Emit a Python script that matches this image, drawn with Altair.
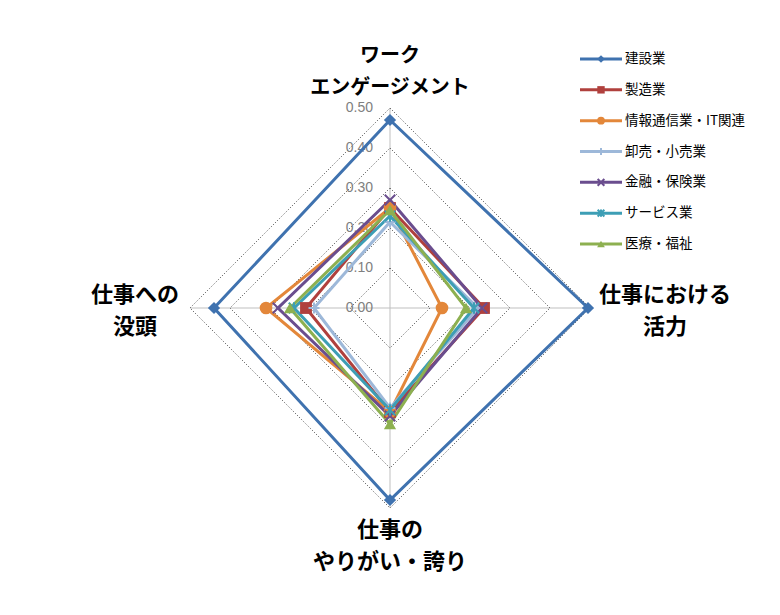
import altair as alt
import pandas as pd

# ---- data ----
axes_labels = ["ワーク\nエンゲージメント", "仕事における\n活力", "仕事の\nやりがい・誇り", "仕事への\n没頭"]
industries = ["建設業", "製造業", "情報通信業・IT関連", "卸売・小売業", "金融・保険業", "サービス業", "医療・福祉"]
# order of values: ワーク(top), 活力(right), やりがい(bottom), 没頭(left)
v_kensetsu = [0.47, 0.495, 0.48, 0.44]
v_seizo = [0.25, 0.235, 0.26, 0.21]
v_joho = [0.25, 0.13, 0.26, 0.31]
v_oroshi = [0.215, 0.22, 0.25, 0.19]
v_kinyu = [0.27, 0.23, 0.27, 0.28]
v_service = [0.23, 0.21, 0.255, 0.24]
v_iryo = [0.245, 0.19, 0.29, 0.25]
grid_levels = [0.1, 0.2, 0.3, 0.4, 0.5]
tick_values = [0.0, 0.1, 0.2, 0.3, 0.4, 0.5]
tick_labels = ["0.00", "0.10", "0.20", "0.30", "0.40", "0.50"]

colors = ["#3F72AF", "#B0403D", "#E3873A", "#9DB8D9", "#6A4D8E", "#3D9EB5", "#8DB050"]
series_values = [v_kensetsu, v_seizo, v_joho, v_oroshi, v_kinyu, v_service, v_iryo]
# marker style per series: (shape, filled, size in plot, size in legend)
markers = [
    ("diamond", True, 150, 60),
    ("square", True, 140, 55),
    ("circle", True, 160, 60),
    ("M0,-1V1M-1,0H1", False, 120, 50),
    ("M-1,-1L1,1M-1,1L1,-1", False, 110, 45),
    ("M-1,-1L1,1M-1,1L1,-1M0,-1.1V1.1", False, 110, 45),
    ("triangle-up", True, 150, 60),
]

# ---- tables ----
rows = []
for si, (name, vals) in enumerate(zip(industries, series_values)):
    for k in range(5):
        rows.append({"industry": name, "s": si, "k": k, "value": vals[k % 4]})
series_df = pd.DataFrame(rows)
point_df = series_df[series_df["k"] < 4]

grid_rows = []
for lv in grid_levels:
    for k in range(5):
        grid_rows.append({"level": lv, "k": k, "value": lv})
grid_df = pd.DataFrame(grid_rows)

spoke_rows = []
for k in range(4):
    spoke_rows.append({"spoke": k, "k": k, "value": 0.0})
    spoke_rows.append({"spoke": k, "k": k, "value": 0.5})
spoke_df = pd.DataFrame(spoke_rows)

tick_df = pd.DataFrame({"value": tick_values, "label": tick_labels})
legend_df = pd.DataFrame({"industry": industries})

D = [-0.5, 0.5]
xs = alt.Scale(domain=D)
ys = alt.Scale(domain=D)

def polar(ch):
    return ch.transform_calculate(
        ang="datum.k * PI / 2",
        px="datum.value * sin(datum.ang)",
        py="datum.value * cos(datum.ang)",
    )

X = alt.X("px:Q", scale=xs, axis=None)
Y = alt.Y("py:Q", scale=ys, axis=None)

color_scale = alt.Scale(domain=industries, range=colors)
COLOR = alt.Color("industry:N", scale=color_scale, legend=None)

spokes = polar(alt.Chart(spoke_df).mark_line(color="#BFBFBF", strokeWidth=1)).encode(
    x=X, y=Y, detail="spoke:N", order="value:Q")

grid = polar(alt.Chart(grid_df).mark_line(color="#404040", strokeWidth=1, strokeDash=[1, 2])).encode(
    x=X, y=Y, detail="level:N", order="k:Q")

ticks = alt.Chart(tick_df).mark_text(
    align="right", baseline="middle", dx=-17, font="Liberation Sans", fontSize=14, color="#808080"
).encode(
    x=alt.X("zero:Q", scale=xs, axis=None),
    y=alt.Y("value:Q", scale=ys, axis=None),
    text="label:N",
).transform_calculate(zero="0")

lines = polar(alt.Chart(series_df).mark_line(strokeWidth=3, strokeJoin="miter")).encode(
    x=X, y=Y, color=COLOR, detail="s:N", order="k:Q",
)

point_layers = []
for name, (shp, filled, sz, _) in zip(industries, markers):
    if filled:
        mk = alt.Chart(point_df).mark_point(shape=shp, filled=True, opacity=1, size=sz)
    else:
        mk = alt.Chart(point_df).mark_point(shape=shp, filled=False, opacity=1, size=sz, strokeWidth=2)
    point_layers.append(
        polar(mk).encode(x=X, y=Y, color=COLOR).transform_filter(
            alt.FieldEqualPredicate(field="industry", equal=name))
    )

# category labels (first line centre placed by dy)
lab_df = pd.DataFrame({"k": [0, 1, 2, 3], "label": axes_labels, "value": [0.5] * 4})
offsets = {0: (0, -52, 20), 1: (75, -13, 22), 2: (0, 22, 22), 3: (-55, -13, 22)}
labels = []
for k, (dx, dy, fs) in offsets.items():
    labels.append(
        polar(alt.Chart(lab_df).mark_text(
            dx=dx, dy=dy, font="Noto Sans CJK JP", fontWeight="bold", fontSize=fs,
            lineBreak="\n", lineHeight=32, baseline="middle", align="center", color="#000000"
        )).encode(x=X, y=Y, text="label:N").transform_filter(f"datum.k == {k}")
    )

radar = alt.layer(spokes, grid, ticks, lines, *point_layers, *labels)

# legend drawn from data
LY = alt.Y("industry:N", scale=alt.Scale(type="point", domain=industries, range=[-49, 136], padding=0), axis=None)
leg_line = alt.Chart(legend_df).mark_rule(strokeWidth=3).encode(
    x=alt.value(390), x2=alt.value(432), y=LY, color=COLOR)
leg_points = []
for name, (shp, filled, _, lsz) in zip(industries, markers):
    if filled:
        mk = alt.Chart(legend_df).mark_point(shape=shp, filled=True, opacity=1, size=lsz)
    else:
        mk = alt.Chart(legend_df).mark_point(shape=shp, filled=False, opacity=1, size=lsz, strokeWidth=2)
    leg_points.append(
        mk.encode(x=alt.value(411), y=LY, color=COLOR).transform_filter(
            alt.FieldEqualPredicate(field="industry", equal=name))
    )
leg_text = alt.Chart(legend_df).mark_text(
    align="left", baseline="middle", font="Noto Sans CJK JP", fontSize=13.5, color="#000000"
).encode(x=alt.value(435), y=LY, text="industry:N")

legend = alt.layer(leg_line, *leg_points, leg_text)

chart = alt.layer(radar, legend).resolve_scale(y="independent").properties(
    width=400, height=400,
    background="#FFFFFF",
    autosize=alt.AutoSizeParams(type="none"),
    padding={"left": 182, "top": 100, "right": 180, "bottom": 90},
).configure_view(strokeWidth=0, stroke="transparent")

chart.save("out.html", embed_options={"renderer": "svg", "actions": False})
